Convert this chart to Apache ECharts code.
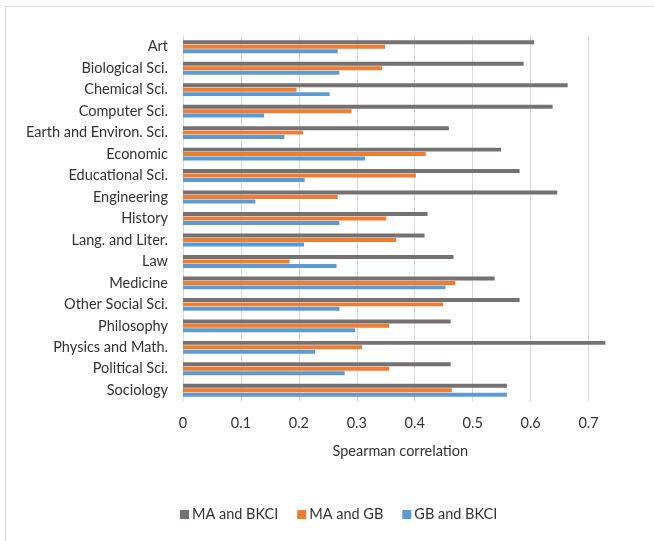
<!DOCTYPE html>
<html>
<head>
<meta charset="utf-8">
<script src="https://cdn.jsdelivr.net/npm/echarts@6/dist/echarts.min.js"></script>
<style>
html,body{margin:0;padding:0;background:#fff;}
#chart{width:654px;height:541px;}
</style>
</head>
<body>
<div id="chart"></div>
<script>
const categories = ["Art","Biological Sci.","Chemical Sci.","Computer Sci.","Earth and Environ. Sci.","Economic","Educational Sci.","Engineering","History","Lang. and Liter.","Law","Medicine","Other Social Sci.","Philosophy","Physics and Math.","Political Sci.","Sociology"];
const maBkci = [0.606,0.588,0.664,0.638,0.459,0.549,0.581,0.646,0.422,0.417,0.467,0.538,0.581,0.462,0.729,0.462,0.559];
const maGb   = [0.349,0.344,0.196,0.291,0.207,0.419,0.402,0.267,0.351,0.368,0.184,0.470,0.449,0.356,0.309,0.356,0.464];
const gbBkci = [0.267,0.270,0.253,0.140,0.175,0.314,0.210,0.125,0.270,0.209,0.265,0.453,0.270,0.297,0.228,0.279,0.559];
const seriesNames = ["MA and BKCI","MA and GB","GB and BKCI"];
const xTicks = {min:0, max:0.75, interval:0.1};

const FONT = "Lato";
const FS = 14.5;
const TXT = '#333333';
const chart = echarts.init(document.getElementById('chart'), null, {renderer:'canvas'});
chart.setOption({
  animation:false,
  backgroundColor:'#fff',
  textStyle:{fontFamily:FONT},
  graphic:[{type:'rect', shape:{x:5.5,y:6.5,width:700,height:600}, style:{fill:'none',stroke:'#D9D9D9',lineWidth:1}, silent:true}],
  grid:{left:183, top:36, bottom:140, right:36.5, containLabel:false},
  legend:{
    data:seriesNames, left:175, top:502, itemWidth:9, itemHeight:9, itemGap:19,
    icon:'rect',
    textStyle:{fontFamily:FONT,fontSize:FS,color:TXT,padding:[0,0,0,-2]}
  },
  xAxis:{
    type:'value', min:xTicks.min, max:xTicks.max, interval:xTicks.interval,
    axisLine:{show:false}, axisTick:{show:false},
    axisLabel:{fontFamily:FONT,fontSize:FS,color:TXT,margin:15,showMaxLabel:false},
    splitLine:{show:true,showMaxLine:false,lineStyle:{color:'#D9D9D9',width:1}},
    name:'Spearman correlation', nameLocation:'middle', nameGap:43,
    nameTextStyle:{fontFamily:FONT,fontSize:FS,color:TXT}
  },
  yAxis:{
    type:'category', data:categories, inverse:true,
    axisTick:{show:false},
    axisLine:{show:true,lineStyle:{color:'#D9D9D9',width:1}},
    axisLabel:{fontFamily:FONT,fontSize:FS,color:TXT,margin:15}
  },
  series:[
    {name:seriesNames[0],type:'bar',data:maBkci,itemStyle:{color:'#767171'},barGap:'12%',barCategoryGap:'40%'},
    {name:seriesNames[1],type:'bar',data:maGb,itemStyle:{color:'#ED7D31'},barGap:'12%',barCategoryGap:'40%'},
    {name:seriesNames[2],type:'bar',data:gbBkci,itemStyle:{color:'#5B9BD5'},barGap:'12%',barCategoryGap:'40%'}
  ]
});
</script>
</body>
</html>
